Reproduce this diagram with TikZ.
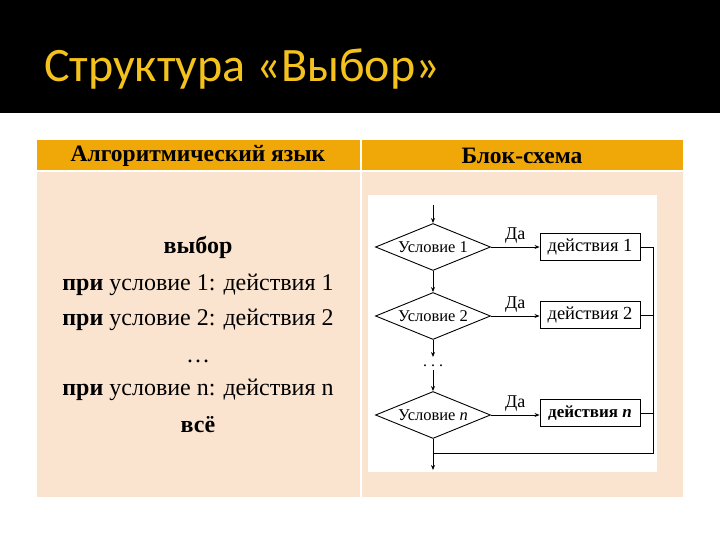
\documentclass[tikz,border=0pt]{standalone}
\usepackage{fontspec}
\setmainfont{Liberation Serif}
\newfontfamily\titlefont{Carlito}
\usetikzlibrary{shapes.geometric,arrows.meta}
\definecolor{titlegold}{HTML}{F4C21C}
\definecolor{headorange}{HTML}{F0A808}
\definecolor{bodypeach}{HTML}{FAE4CF}
\tikzset{
	cond/.style={diamond, draw, line width=0.9pt, aspect=2.45, inner sep=0pt, minimum width=115pt, minimum height=47pt, font=\fontsize{16.5}{17}\selectfont},
	act/.style={rectangle, draw, line width=0.9pt, inner sep=0pt, minimum width=100pt, minimum height=27pt, font=\fontsize{18.5}{19}\selectfont},
	flow/.style={line width=0.9pt, -{Stealth[length=5pt,width=4pt]}},
	line/.style={line width=0.9pt},
	yes/.style={above, font=\fontsize{18}{18}\selectfont},
	algline/.style={font=\fontsize{24}{25}\selectfont}
}

\begin{document}
\begin{tikzpicture}[x=1pt, y=-1pt]
			%%%%% START %%%%%
			\useasboundingbox (0, 0) rectangle (720, 540);
			
			% title band
			\fill[black] (0, 0) rectangle (720, 113);
			\node[anchor=base west, text=titlegold, font=\titlefont\fontsize{48}{48}\selectfont, inner sep=0pt] (title) at (44, 82) {Структура «Выбор»};
			
			% table
			\fill[headorange] (37, 140) rectangle (683, 170);
			\fill[bodypeach] (37, 172) rectangle (683, 497);
			\draw[white, line width=1.5pt] (361, 140) -- (361, 497);
			\node[font=\bfseries\fontsize{23.5}{24}\selectfont] (head1) at (198, 156) {Алгоритмический язык};
			\node[font=\bfseries\fontsize{23.5}{24}\selectfont] (head2) at (522, 156) {Блок-схема};
			
			% left column
			\node[algline, font=\bfseries\fontsize{24}{25}\selectfont] (l1) at (198, 247) {выбор};
			\node[algline] (l2) at (198, 285) {\textbf{при} условие 1: действия 1};
			\node[algline] (l3) at (198, 320) {\textbf{при} условие 2: действия 2};
			\node[algline, anchor=base] (l4) at (198, 362) {\dots};
			\node[algline] (l5) at (198, 390) {\textbf{при} условие n: действия n};
			\node[algline, font=\bfseries\fontsize{24}{25}\selectfont] (l6) at (198, 425) {всё};
			
			% flowchart
			\fill[white] (368, 195) rectangle (657, 472);
			\coordinate (start) at (433, 205);
			\node[cond] (c1) at (433, 247) {Условие 1};
			\node[cond] (c2) at (433, 316) {Условие 2};
			\node[cond] (cn) at (433, 415) {Условие \textit{n}};
			\node[act] (a1) at (590, 247) {действия 1};
			\node[act] (a2) at (590, 315) {действия 2};
			\node[act, font=\bfseries\fontsize{17}{17}\selectfont] (an) at (590, 413) {действия \textit{n}};
			\coordinate (dotstop) at (433, 357);
			\node[inner sep=0pt, anchor=base, font=\fontsize{16}{16}\selectfont] (dots) at (433, 366) {.\hspace{4pt}.\hspace{4pt}.};
			\coordinate (dotsbot) at (433, 370);
			\coordinate (right1) at (653, 247);
			\coordinate (join) at (653, 453);
			\coordinate (merge) at (433, 453);
			\coordinate (finish) at (433, 470);
			
			\draw[flow] (start) -- (c1.north);
			\draw[flow] (c1.south) -- (c2.north);
			\draw[flow] (c2.south) -- (dotstop);
			\draw[flow] (dotsbot) -- (cn.north);
			\draw[flow] (cn.south) -- (finish);
			
			\draw[flow] (c1.east) -- node[yes] (yes1) {Да} (a1.west);
			\draw[flow] (c2.east) -- node[yes] (yes2) {Да} (c2.east -| a2.west);
			\draw[flow] (cn.east) -- node[yes] (yesn) {Да} (cn.east -| an.west);
			
			\draw[line] (a1.east) -- (right1) -- (join) -- (merge);
			\draw[line] (a2.east) -- (a2.east -| join);
			\draw[line] (an.east) -- (an.east -| join);
			
			%%%%% END %%%%%
\end{tikzpicture}
\end{document}
